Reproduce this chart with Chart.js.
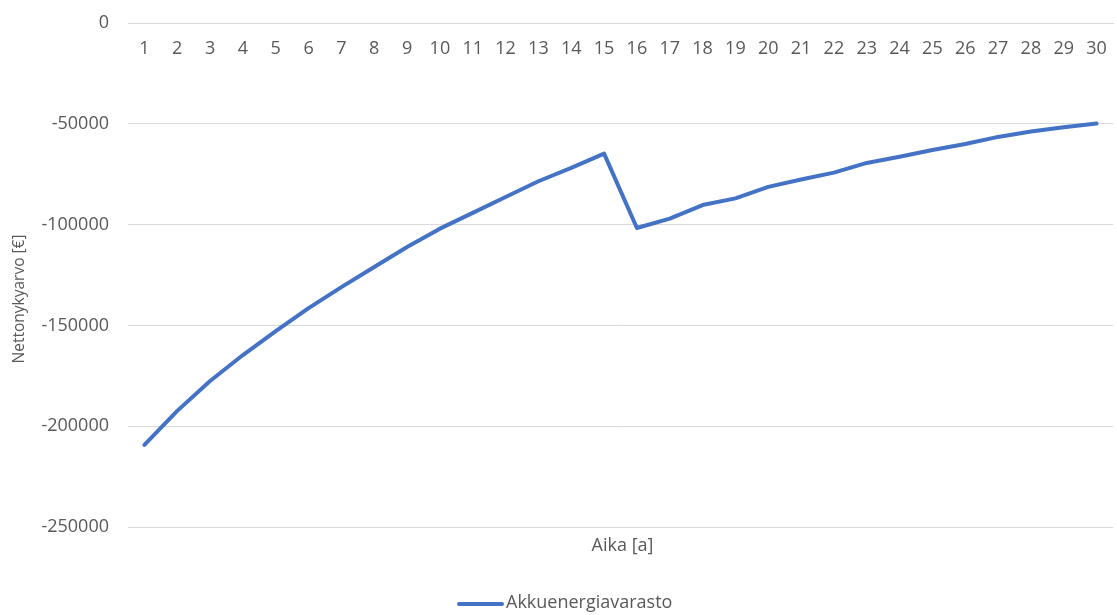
<!DOCTYPE html>
<html>
<head>
<meta charset="utf-8">
<script src="https://cdn.jsdelivr.net/npm/chart.js@4/dist/chart.umd.min.js"></script>
<style>
  html, body { margin: 0; padding: 0; background: #ffffff; }
  #wrap { width: 1117px; height: 615px; position: relative; }
</style>
</head>
<body>
<div id="wrap"><canvas id="c" width="1117" height="615"></canvas></div>
<script>
// Years of the calculation period
const years = [1, 2, 3, 4, 5, 6, 7, 8, 9, 10, 11, 12, 13, 14, 15,
               16, 17, 18, 19, 20, 21, 22, 23, 24, 25, 26, 27, 28, 29, 30];

// Cumulative net present value of the battery storage, €
const npvBattery = [-209300, -192400, -177600, -164700, -152800, -141400, -131000, -121000,
                    -111100, -102000, -94200, -86300, -78500, -71900, -64800,
                    -101700, -97000, -90300, -87000, -81300, -77600, -74200, -69400,
                    -66300, -63000, -60000, -56500, -53800, -51700, -49900];

const seriesName = 'Akkuenergiavarasto';
const xTitle = 'Aika [a]';
const yTitle = 'Nettonykyarvo [€]';

const yMin = -250000, yMax = 0, yStep = 50000;

const FONT = '"Open Sans", "Segoe UI", sans-serif';
const TEXT = '#595959';
const GRID = '#d9d9d9';
const LINE = '#4472c4';

// Axis titles and legend drawn beneath the plot
const annotations = {
  id: 'annotations',
  afterDraw(chart) {
    const ctx = chart.ctx;
    const area = chart.chartArea;
    ctx.save();
    ctx.fillStyle = TEXT;
    ctx.textBaseline = 'middle';

    // x axis title
    ctx.font = '18px ' + FONT;
    ctx.textAlign = 'center';
    ctx.fillText(xTitle, (area.left + area.right) / 2 + 2, 546);

    // y axis title
    ctx.save();
    ctx.font = '15.5px ' + FONT;
    ctx.translate(20, 299);
    ctx.rotate(-Math.PI / 2);
    ctx.fillText(yTitle, 0, 0);
    ctx.restore();

    // legend
    ctx.font = '18px ' + FONT;
    ctx.strokeStyle = LINE;
    ctx.lineWidth = 4;
    ctx.lineCap = 'round';
    ctx.beginPath();
    ctx.moveTo(459, 604);
    ctx.lineTo(502, 604);
    ctx.stroke();
    ctx.textAlign = 'left';
    ctx.fillText(seriesName, 506, 603);
    ctx.restore();
  }
};

new Chart(document.getElementById('c'), {
  type: 'line',
  data: {
    labels: years,
    datasets: [{
      label: seriesName,
      data: npvBattery,
      borderColor: LINE,
      borderWidth: 4,
      borderCapStyle: 'round',
      borderJoinStyle: 'round',
      pointRadius: 0,
      tension: 0,
      fill: false
    }]
  },
  options: {
    responsive: false,
    animation: false,
    layout: { padding: { left: 0, right: 4, top: 23, bottom: 88 } },
    plugins: {
      legend: { display: false },
      tooltip: { enabled: false }
    },
    scales: {
      x: {
        type: 'category',
        position: { y: 0 },
        offset: true,
        afterFit(scale) {
          scale.paddingLeft = 0; scale.paddingRight = 0;
          scale.paddingTop = 0; scale.paddingBottom = 0;
        },
        grid: { display: false, drawTicks: false },
        border: { display: true, color: GRID, width: 1 },
        ticks: {
          color: TEXT,
          font: { family: FONT, size: 18 },
          padding: 15,
          maxRotation: 0,
          autoSkip: false
        }
      },
      y: {
        min: yMin,
        max: yMax,
        afterFit(scale) {
          scale.width = 128;
          scale.paddingTop = 0; scale.paddingBottom = 0;
        },
        grid: { color: GRID, lineWidth: 1, drawTicks: false },
        border: { display: false },
        ticks: {
          stepSize: yStep,
          color: TEXT,
          font: { family: FONT, size: 18 },
          padding: 19,
          callback: (v) => String(v)
        }
      }
    }
  },
  plugins: [annotations]
});
</script>
</body>
</html>
